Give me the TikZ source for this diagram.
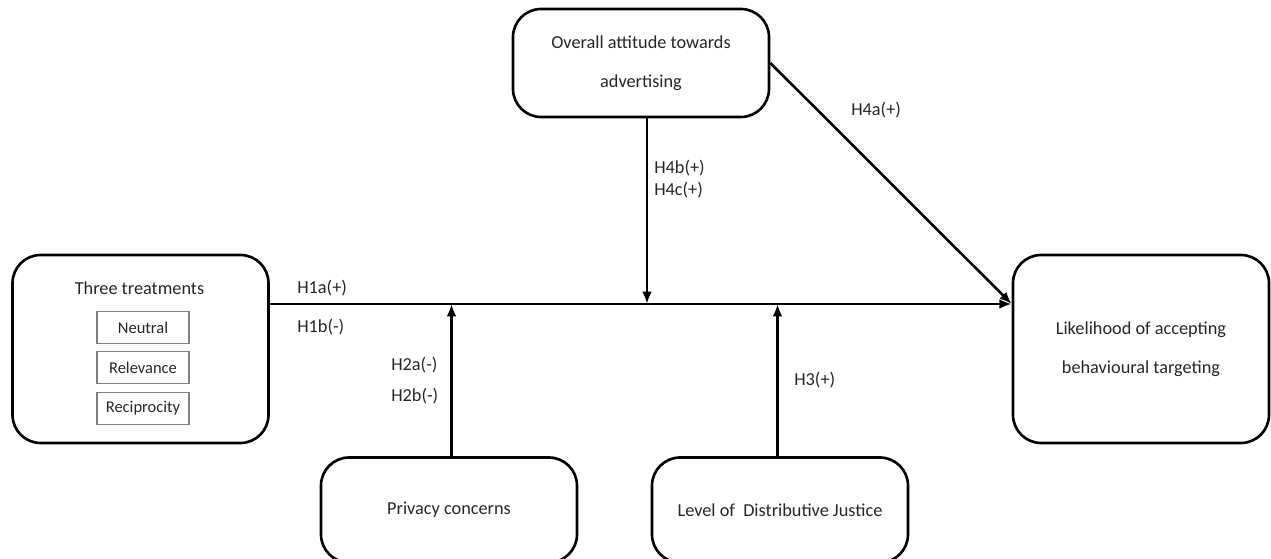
\documentclass[tikz,border=0pt]{standalone}
\usepackage{fontspec}
\setmainfont{Carlito}
\usetikzlibrary{arrows.meta}

\begin{document}
\begin{tikzpicture}[>={Latex[length=7pt,width=5.5pt]}, line width=1.5pt,
    every node/.style={font=\fontsize{10.4}{22}\selectfont, text=black!85},
    box/.style={draw=black, rounded corners=16pt, minimum width=5.12cm, align=center, inner sep=0pt},
    subbox/.style={draw=gray, line width=0.6pt, minimum width=1.84cm, minimum height=0.64cm,
      inner sep=0pt, font=\fontsize{9.4}{11}\selectfont},
    hyp/.style={anchor=west, inner sep=0pt}]
      \clip (0,0) rectangle (25.42,-11.18);
      \node[box, minimum height=3.76cm] (treat) at (2.81,-6.98) {};
      \node (title) at (2.79,-5.76) {Three treatments};
      \node[subbox] (neutral) at (2.86,-6.55) {Neutral};
      \node[subbox] (relev) at (2.86,-7.35) {Relevance};
      \node[subbox] (recip) at (2.86,-8.17) {Reciprocity};
      \node[box, minimum height=2.16cm] (attitude) at (12.82,-1.26) {Overall attitude towards\\advertising};
      \node[box, minimum height=3.76cm] (likely) at (22.82,-6.98) {Likelihood of accepting\\behavioural targeting};
      \node[box, minimum height=2.1cm] (privacy) at (8.98,-10.2) {Privacy concerns};
      \node[box, minimum height=2.1cm] (justice) at (15.6,-10.2) {Level of~ Distributive Justice};

      \coordinate (hl) at (0,-6.08);
      \coordinate (m2) at (9.03,-6.08);
      \coordinate (m3) at (15.55,-6.08);
      \coordinate (m4) at (12.94,-6.08);

      \draw[->] (treat.east |- hl) -- (likely.west |- hl);
      \draw[->] (attitude.south -| m4) -- (m4);
      \draw[->] (privacy.north -| m2) -- (m2);
      \draw[->] (justice.north -| m3) -- (m3);
      \draw[->] (attitude.east) -- (likely.west |- hl);

      \node[hyp] (h1a) at (5.92,-5.76) {H1a(+)};
      \node[hyp] (h1b) at (5.92,-6.54) {H1b(-)};
      \node[hyp] (h2a) at (7.8,-7.3) {H2a(-)};
      \node[hyp] (h2b) at (7.8,-7.92) {H2b(-)};
      \node[hyp] (h3) at (15.86,-7.6) {H3(+)};
      \node[hyp] (h4b) at (13.06,-3.36) {H4b(+)};
      \node[hyp] (h4c) at (13.06,-3.8) {H4c(+)};
      \node[hyp] (h4a) at (17.0,-2.2) {H4a(+)};
    \end{tikzpicture}
\end{document}
